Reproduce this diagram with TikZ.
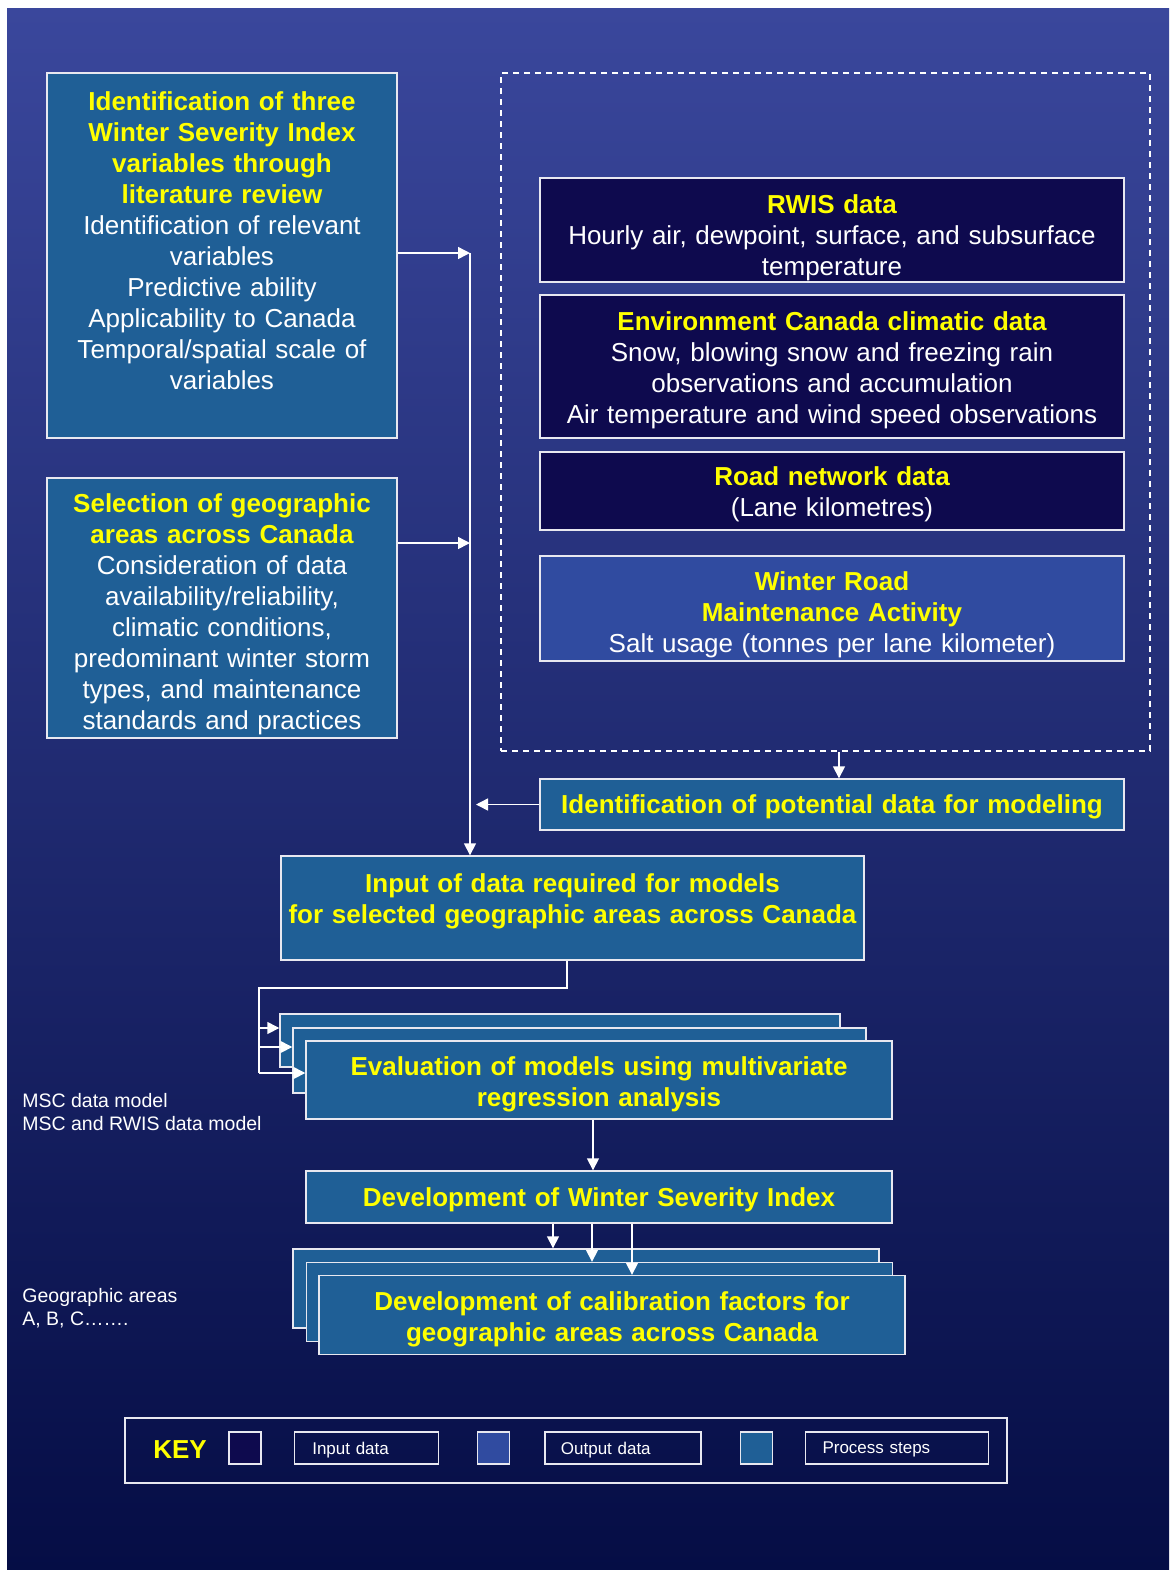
\documentclass[tikz,border=0pt]{standalone}
\usepackage{fontspec}
\setmainfont{Liberation Sans}
\usepackage{xcolor}
\usepackage{tikz}
\usetikzlibrary{arrows.meta,positioning,calc}
\definecolor{bgtop}{HTML}{3A479C}
\definecolor{bgmid}{HTML}{2A308E}
\definecolor{bgbottom}{HTML}{050D45}
\definecolor{processblue}{HTML}{1F5F96}
\definecolor{inputnavy}{HTML}{0E0A4E}
\definecolor{outputblue}{HTML}{304BA0}
\definecolor{titleyellow}{HTML}{FFFF00}
\definecolor{edgewhite}{HTML}{E8E8F0}
\tikzset{
  wire/.style={line width=0.75pt, draw=white},
  flow/.style={wire, -{Triangle[length=6pt,width=6pt]}},
  box/.style={draw=edgewhite, line width=0.7pt, align=center, inner sep=0pt,
              text=white, font=\fontsize{13}{15.5}\selectfont},
  processbox/.style={box, fill=processblue},
  inputbox/.style={box, fill=inputnavy},
  outputbox/.style={box, fill=outputblue},
  textlift/.style={execute at end node={\par\vspace*{#1}}},
  swatch/.style={draw=edgewhite, line width=0.7pt, minimum width=16pt,
                 minimum height=16pt, inner sep=0pt},
  keylabel/.style={draw=edgewhite, line width=0.6pt, minimum height=16pt, align=left,
                   inner ysep=0pt, text=white, font=\fontsize{8.5}{10}\selectfont, textlift=-6pt},
  sidenote/.style={align=left, text=white, inner sep=0pt, font=\fontsize{9.75}{11.5}\selectfont}
}
\newcommand{\stephead}[1]{{\bfseries\color{titleyellow}#1}}

\begin{document}
\begin{tikzpicture}[x=0.5pt, y=-0.5pt, node distance=16pt]
  \fill[white] (0,0) rectangle (1169,1570);
  \useasboundingbox (0,0) rectangle (1169,1570);
  \shade[top color=bgtop, middle color=bgmid, bottom color=bgbottom] (7,8) rectangle (1169,1570);

  \node[processbox, minimum width=175pt, minimum height=182.5pt, text width=170pt, textlift=15pt] (litreview) at (222,255.5)
    {\stephead{Identification of three\\Winter Severity Index\\variables through\\literature review}\\Identification of relevant\\variables\\Predictive ability\\Applicability to Canada\\Temporal/spatial scale of\\variables};
  \node[processbox, minimum width=175pt, minimum height=130pt, text width=170pt, textlift=-6pt] (geoareas) at (222,608)
    {\stephead{Selection of geographic\\areas across Canada}\\Consideration of data\\availability/reliability,\\climatic conditions,\\predominant winter storm\\types, and maintenance\\standards and practices};

  \node[draw=white, line width=0.75pt, dash pattern=on 3pt off 2.5pt, minimum width=324.5pt, minimum height=339pt, inner sep=0pt] (datapool) at (825.5,412) {};
  \node[inputbox, minimum width=292pt, minimum height=52pt, text width=288pt, textlift=-8pt] (rwis) at (832,230)
    {\stephead{RWIS data}\\Hourly air, dewpoint, surface, and subsurface\\temperature};
  \node[inputbox, minimum width=292pt, minimum height=71.5pt, text width=288pt, textlift=-4pt] (envcan) at (832,366.5)
    {\stephead{Environment Canada climatic data}\\Snow, blowing snow and freezing rain\\observations and accumulation\\Air temperature and wind speed observations};
  \node[inputbox, minimum width=292pt, minimum height=39pt, text width=288pt, textlift=-3pt] (roadnet) at (832,491)
    {\stephead{Road network data}\\(Lane kilometres)};
  \node[outputbox, minimum width=292pt, minimum height=52.5pt, text width=288pt, textlift=-6pt] (maint) at (832,608.5)
    {\stephead{Winter Road\\Maintenance Activity}\\Salt usage (tonnes per lane kilometer)};
  \node[processbox, minimum width=292pt, minimum height=25.5pt, text width=288pt, textlift=-3pt] (potential) at (832,804.5)
    {\stephead{Identification of potential data for modeling}};

  \node[processbox, minimum width=291.5pt, minimum height=52pt, text width=288pt, textlift=7pt] (inputdata) at (572.5,908)
    {\stephead{Input of data required for models\\for selected geographic areas across Canada}};

  \node[processbox, minimum width=280pt, minimum height=26.5pt] (evalA) at (560,1040.5) {};
  \node[processbox, minimum width=286.5pt, minimum height=32.5pt] (evalB) at (579.5,1060.5) {};
  \node[processbox, minimum width=293pt, minimum height=39pt, text width=288pt, textlift=-4pt] (evalC) at (599,1080)
    {\stephead{Evaluation of models using multivariate\\regression analysis}};
  \node[processbox, minimum width=293pt, minimum height=26pt, text width=288pt, textlift=-3pt] (wsi) at (599,1197)
    {\stephead{Development of Winter Severity Index}};
  \node[processbox, minimum width=293pt, minimum height=39.5pt] (calibD) at (586,1288.5) {};
  \node[processbox, minimum width=293pt, minimum height=39.5pt] (calibE) at (599.5,1302) {};
  \node[processbox, minimum width=293pt, minimum height=39.5pt, text width=288pt, textlift=-4pt] (calibF) at (612,1315)
    {\stephead{Development of calibration factors for\\geographic areas across Canada}};

  \node[sidenote, anchor=west] (modelnote) at (22,1112) {MSC data model\\MSC and RWIS data model};
  \node[sidenote, anchor=west] (areanote) at (22,1308.5) {Geographic areas\\A, B, C…….};

  \node[draw=edgewhite, line width=0.7pt, minimum width=441pt, minimum height=32.5pt, inner sep=0pt] (keybox) at (566,1450.5) {};
  \node[font=\fontsize{13}{15}\selectfont\bfseries, text=titleyellow, inner sep=0pt] (keytitle) at (180,1450) {KEY};
  \node[swatch, fill=inputnavy] (inswatch) at (245,1448) {};
  \node[keylabel, right=16pt of inswatch, text width=54pt, inner xsep=9pt] (inlabel) {Input data};
  \node[swatch, fill=outputblue, right=19pt of inlabel] (outswatch) {};
  \node[keylabel, right=17pt of outswatch, text width=62pt, inner xsep=8pt] (outlabel) {Output data};
  \node[swatch, fill=processblue, right=19pt of outlabel] (procswatch) {};
  \node[keylabel, right=16pt of procswatch, text width=74.5pt, inner xsep=8.5pt] (proclabel) {Process steps};

  \coordinate (spinetop) at (470,253);
  \coordinate (geojoin) at (470,543);
  \coordinate (poolout) at (839,752);
  \coordinate (evalbus) at (259,988);
  \coordinate (hookA) at ([yshift=6.25pt]evalA.west);
  \coordinate (hookB) at ([yshift=6.75pt]evalB.west);
  \coordinate (hookC) at ([yshift=3.5pt]evalC.west);

  \draw[flow] (litreview.east |- spinetop) -- (spinetop);
  \draw[flow] (geoareas.east |- geojoin) -- (geojoin);
  \draw[flow] (spinetop) -- (spinetop |- inputdata.north);
  \draw[flow] (potential.west) -- ($(potential.west -| spinetop)+(6,0)$);
  \draw[flow] (poolout) -- (poolout |- potential.north);
  \draw[wire] ([xshift=-2.75pt]inputdata.south) |- (evalbus) -- (evalbus |- hookC);
  \foreach \h in {hookA,hookB,hookC}
    \draw[flow] (evalbus |- \h) -- (\h);
  \draw[flow] ([xshift=-3pt]evalC.south) -- ([xshift=-3pt]wsi.north);
  \foreach \dx/\target in {-23pt/calibD,-3.5pt/calibE,16.5pt/calibF}
    \draw[flow] ([xshift=\dx]wsi.south) -- ([xshift=\dx]wsi.south |- \target.north);
\end{tikzpicture}
\end{document}
